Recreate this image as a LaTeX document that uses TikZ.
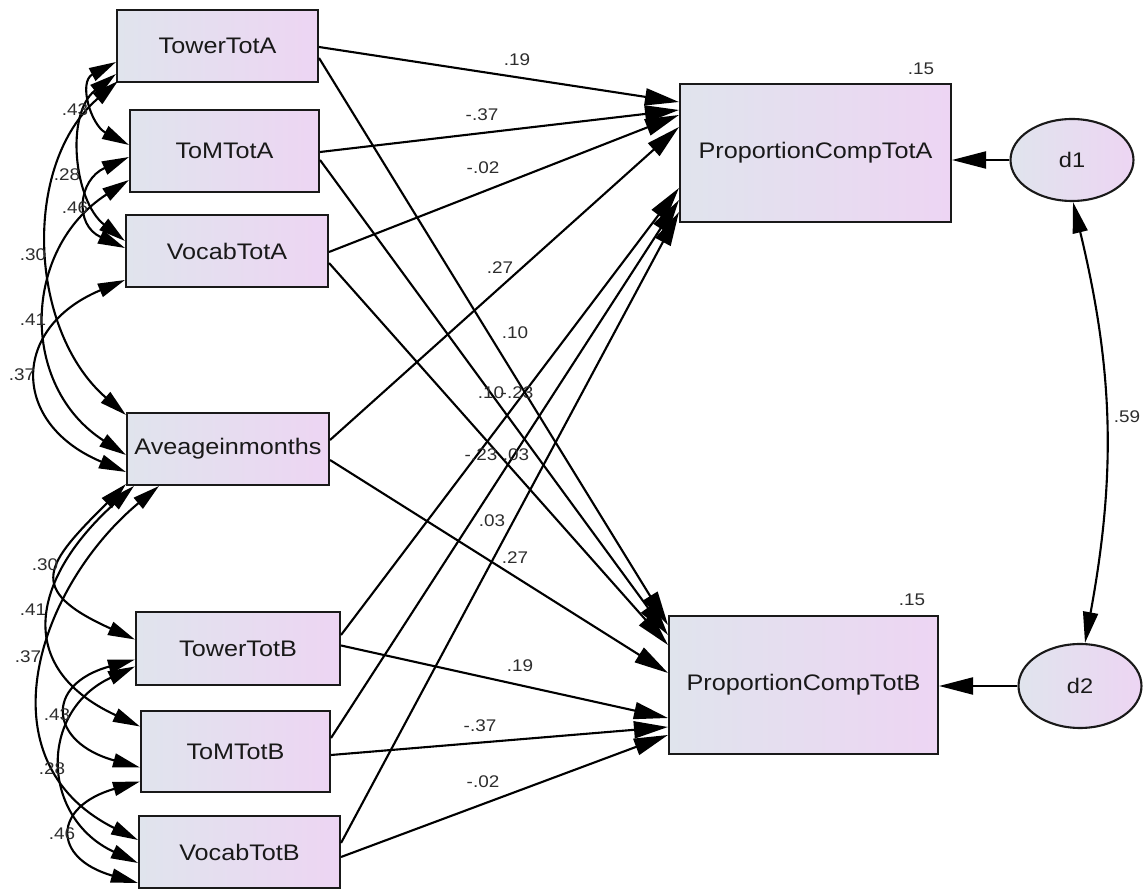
\documentclass[tikz,border=0pt]{standalone}
\usepackage{fontspec}
\setmainfont{Liberation Sans}[FakeStretch=1.12]
\usetikzlibrary{arrows.meta,shapes.geometric,calc}
\definecolor{boxL}{RGB}{224,228,237}
\definecolor{boxR}{RGB}{237,213,243}
\definecolor{labc}{RGB}{45,45,45}
\newcommand{\covarc}[6]{\draw[cov] (#1) .. controls ($(#1)+(-#3,#4)$) and ($(#2)+(-#5,-#6)$) .. (#2);}
\begin{document}
\begin{tikzpicture}[x=0.02cm,y=-0.02cm,
  box/.style={draw=black!90, line width=1.2pt, left color=boxL, right color=boxR, inner sep=0pt, text=black!90, font=\fontsize{12.8}{14}\selectfont},
  lat/.style={ellipse, draw=black!90, line width=1.2pt, left color=boxL, right color=boxR, inner sep=0pt, text=black!90, font=\fontsize{12}{14}\selectfont},
  arr/.style={line width=1.2pt, -{Triangle[length=0.68cm,width=0.34cm]}},
  cov/.style={line width=1.2pt, {Triangle[length=0.54cm,width=0.28cm]}-{Triangle[length=0.54cm,width=0.28cm]}},
  bigcov/.style={line width=1.2pt, {Triangle[length=0.62cm,width=0.3cm]}-{Triangle[length=0.62cm,width=0.3cm]}},
  lab/.style={font=\fontsize{9.6}{10}\selectfont, text=labc, inner sep=0pt}]
\useasboundingbox (0,0) rectangle (1144,891);
% boxes
\node[box, minimum width=4.02cm, minimum height=1.44cm] (TA) at (217.5,46) {TowerTotA};
\node[box, minimum width=3.78cm, minimum height=1.64cm] (MA) at (224.5,151) {ToMTotA};
\node[box, minimum width=4.04cm, minimum height=1.44cm] (VA) at (227,251) {VocabTotA};
\node[box, minimum width=4.04cm, minimum height=1.44cm] (AG) at (228,449) {Aveageinmonths};
\node[box, minimum width=4.08cm, minimum height=1.46cm] (TB) at (238,648.5) {TowerTotB};
\node[box, minimum width=3.78cm, minimum height=1.62cm] (MB) at (235.5,751.5) {ToMTotB};
\node[box, minimum width=4.02cm, minimum height=1.44cm] (VB) at (239.5,852) {VocabTotB};
\node[box, minimum width=5.42cm, minimum height=2.76cm] (PA) at (815.5,153) {ProportionCompTotA};
\node[box, minimum width=5.38cm, minimum height=2.76cm] (PB) at (803.5,685) {ProportionCompTotB};
\node[lat, minimum width=2.46cm, minimum height=1.64cm] (d1) at (1072,160) {d1};
\node[lat, minimum width=2.46cm, minimum height=1.68cm] (d2) at (1080,686) {d2};
% regression paths
\draw[arr] ($(TA.east)+(0,1)$) -- ($(PA.west)+(0,-51)$);
\draw[arr] ($(TA.east)+(0,12)$) -- ($(PB.west)+(0,-60)$);
\draw[arr] ($(MA.east)+(0,1)$) -- ($(PA.west)+(0,-43)$);
\draw[arr] ($(MA.east)+(0,9)$) -- ($(PB.west)+(0,-50)$);
\draw[arr] ($(VA.east)+(0,1)$) -- ($(PA.west)+(0,-38)$);
\draw[arr] ($(VA.east)+(0,12)$) -- ($(PB.west)+(0,-40)$);
\draw[arr] ($(AG.east)+(0,-9)$) -- ($(PA.west)+(0,-26)$);
\draw[arr] ($(AG.east)+(0,11)$) -- ($(PB.west)+(0,-12)$);
\draw[arr] ($(TB.east)+(0,-13.5)$) -- ($(PA.west)+(0,35)$);
\draw[arr] ($(TB.east)+(0,-3)$) -- ($(PB.west)+(0,33)$);
\draw[arr] ($(MB.east)+(0,-13.5)$) -- ($(PA.west)+(0,47)$);
\draw[arr] ($(MB.east)+(0,3.5)$) -- ($(PB.west)+(0,42)$);
\draw[arr] ($(VB.east)+(0,-9)$) -- ($(PA.west)+(0,59)$);
\draw[arr] ($(VB.east)+(0,5)$) -- ($(PB.west)+(0,50)$);
% disturbances
\draw[arr] (d1.west) -- (d1.west -| PA.east);
\draw[arr] (d2.west) -- (d2.west -| PB.east);
\draw[bigcov] ($(d1.south)+(1,0)$) to[bend left=12] ($(d2.north)+(5,0)$);
% covariance arc end points
\coordinate (c1s) at ($(TA.west)+(0,16)$);
\coordinate (c1e) at ($(MA.west)+(0,-6)$);
\coordinate (c2s) at ($(TA.west)+(0,28)$);
\coordinate (c2e) at ($(VA.west)+(0,-10)$);
\coordinate (c3s) at ($(MA.west)+(0,6)$);
\coordinate (c3e) at ($(VA.west)+(0,-3)$);
\coordinate (c4s) at ($(TA.south west)+(2,-2)$);
\coordinate (c4e) at ($(AG.west)+(0,-34)$);
\coordinate (c5s) at ($(MA.west)+(0,29)$);
\coordinate (c5e) at ($(AG.west)+(0,6)$);
\coordinate (c6s) at ($(VA.west)+(0,29)$);
\coordinate (c6e) at ($(AG.west)+(0,23)$);
\coordinate (c7s) at ($(AG.south west)+(0,-2)$);
\coordinate (c7e) at ($(TB.west)+(0,-9)$);
\coordinate (c8s) at ($(AG.south west)+(8,0)$);
\coordinate (c8e) at ($(MB.west)+(0,-25)$);
\coordinate (c9s) at ($(AG.south west)+(33,0)$);
\coordinate (c9e) at ($(VB.west)+(0,-12)$);
\coordinate (c10s) at ($(TB.west)+(0,11)$);
\coordinate (c10e) at ($(MB.west)+(0,16)$);
\coordinate (c11s) at ($(TB.west)+(0,18)$);
\coordinate (c11e) at ($(VB.west)+(0,11)$);
\coordinate (c12s) at ($(MB.west)+(0,30)$);
\coordinate (c12e) at ($(VB.west)+(0,31)$);
% covariance arcs
\covarc{c1s}{c1e}{38}{20}{38}{20}
\covarc{c2s}{c2e}{51}{40}{51}{40}
\covarc{c3s}{c3e}{51}{23}{51}{23}
\covarc{c4s}{c4e}{97}{84}{97}{84}
\covarc{c5s}{c5e}{107}{69}{107}{69}
\covarc{c6s}{c6e}{115}{48}{115}{48}
\covarc{c7s}{c7e}{80}{80}{111}{50}
\covarc{c8s}{c8e}{100}{90}{129}{60}
\covarc{c9s}{c9e}{120}{100}{159}{80}
\covarc{c10s}{c10e}{91}{25}{91}{25}
\covarc{c11s}{c11e}{97}{45}{97}{45}
\covarc{c12s}{c12e}{87}{25}{87}{25}
% covariance labels
\node[lab] (k1) at (75,110) {.43};
\node[lab] (k2) at (67,175) {.28};
\node[lab] (k3) at (75,208) {.46};
\node[lab] (k4) at (33,255) {.30};
\node[lab] (k5) at (33,320) {.41};
\node[lab] (k6) at (22,375) {.37};
\node[lab] (k7) at (45,565) {.30};
\node[lab] (k8) at (33,610) {.41};
\node[lab] (k9) at (28,657) {.37};
\node[lab] (k10) at (57,715) {.43};
\node[lab] (k11) at (52,769) {.28};
\node[lab] (k12) at (62,834) {.46};
% path labels
\node[lab] (p1) at (517,60) {.19};
\node[lab] (p2) at (482,115) {-.37};
\node[lab] (p3) at (483,168) {-.02};
\node[lab] (p4) at (500,268) {.27};
\node[lab] (p5) at (515,333) {.10};
\node[lab] (p6) at (491,393) {.10};
\node[lab] (p7) at (517,393) {-.23};
\node[lab] (p8) at (481,455) {-.23};
\node[lab] (p9) at (516,455) {.03};
\node[lab] (p10) at (492,521) {.03};
\node[lab] (p11) at (515,558) {.27};
\node[lab] (p12) at (520,666) {.19};
\node[lab] (p13) at (480,726) {-.37};
\node[lab] (p14) at (483,782) {-.02};
\node[lab] (r1) at (921,69) {.15};
\node[lab] (r2) at (912,600) {.15};
\node[lab] (r3) at (1127,417) {.59};
\end{tikzpicture}
\end{document}
